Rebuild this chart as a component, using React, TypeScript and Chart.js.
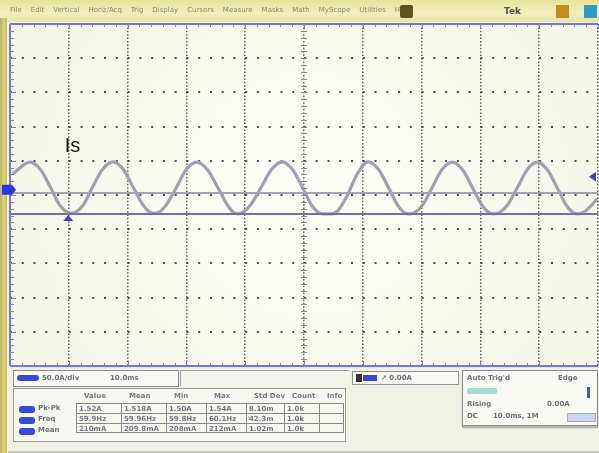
import React, { useEffect, useRef } from "react";
import { Chart, registerables } from "chart.js";

Chart.register(...registerables);

// Horizontal position in divisions (10 divisions across the screen)
const TIME_DIV = [
  0.05, 0.34, 0.52, 0.69, 0.84, 0.97, 1.04, 1.12, 1.25, 1.4, 1.57, 1.75, 1.93, 2.1,
  2.26, 2.38, 2.45, 2.53, 2.66, 2.83, 3.0, 3.18, 3.36, 3.54, 3.7, 3.81, 3.88, 3.96,
  4.1, 4.27, 4.45, 4.63, 4.81, 4.98, 5.13, 5.25, 5.31, 5.48, 5.58, 5.74, 5.9, 6.09,
  6.27, 6.44, 6.59, 6.71, 6.8, 6.89, 7.03, 7.18, 7.35, 7.52, 7.7, 7.87, 8.03, 8.15,
  8.24, 8.33, 8.47, 8.63, 8.8, 8.96, 9.14, 9.31, 9.46, 9.58, 9.66, 9.76, 9.9, 9.98,
];
// Current trace "Is" in vertical divisions (0 = screen centre)
const IS_DIV = [
  0.62, 0.96, 0.74, 0.22, -0.28, -0.5, -0.54, -0.5, -0.28, 0.22, 0.74, 0.97, 0.74, 0.21,
  -0.29, -0.51, -0.54, -0.51, -0.28, 0.22, 0.75, 0.96, 0.73, 0.2, -0.3, -0.52, -0.55, -0.51,
  -0.27, 0.22, 0.75, 0.97, 0.73, 0.2, -0.3, -0.52, -0.55, -0.55, -0.45, 0.0, 0.6, 0.97,
  0.74, 0.21, -0.29, -0.52, -0.55, -0.51, -0.26, 0.22, 0.75, 0.96, 0.73, 0.2, -0.3, -0.52,
  -0.55, -0.51, -0.27, 0.22, 0.75, 0.96, 0.73, 0.2, -0.3, -0.52, -0.55, -0.5, -0.28, -0.12,
];
const TRACE_LABEL = "Is";
const REF_LEVELS = [0.06, -0.555];
const X_RANGE = [0, 10];
const Y_RANGE = [-5, 5];
const GROUND_LEVEL = 0.15;
const TRIGGER_POS = 0.99;
const TRIGGER_LEVEL = 0.53;

const MENU_ITEMS = ["File", "Edit", "Vertical", "Horiz/Acq", "Trig", "Display", "Cursors", "Measure", "Masks", "Math", "MyScope", "Utilities", "Help"];
const MEAS_HEADERS = ["Value", "Mean", "Min", "Max", "Std Dev", "Count", "Info"];
const MEAS_ROWS = [
  ["Pk-Pk", "1.52A", "1.518A", "1.50A", "1.54A", "8.10m", "1.0k", ""],
  ["Freq", "59.9Hz", "59.96Hz", "59.8Hz", "60.1Hz", "42.3m", "1.0k", ""],
  ["Mean", "210mA", "209.8mA", "208mA", "212mA", "1.02m", "1.0k", ""],
];

const scopePlugin = {
  id: "scopeDecor",
  beforeDraw(chart: any) {
    const { ctx, chartArea: a } = chart;
    ctx.save();
    const g = ctx.createRadialGradient((a.left + a.right) / 2, (a.top + a.bottom) / 2, 50, (a.left + a.right) / 2, (a.top + a.bottom) / 2, 420);
    g.addColorStop(0, "#fbfcf5");
    g.addColorStop(1, "#f3f5e4");
    ctx.fillStyle = g;
    ctx.fillRect(a.left, a.top, a.right - a.left, a.bottom - a.top);
    ctx.restore();
  },
  afterDraw(chart: any) {
    const { ctx, chartArea: a, scales } = chart;
    const x = scales.x;
    const y = scales.y;
    ctx.save();
    // minor ticks on centre axes
    ctx.strokeStyle = "#8a8a8a";
    ctx.lineWidth = 1;
    const cx = x.getPixelForValue(5);
    for (let v = Y_RANGE[0]; v <= Y_RANGE[1] + 1e-6; v += 0.2) {
      const py = Math.round(y.getPixelForValue(v)) + 0.5;
      ctx.beginPath();
      ctx.moveTo(cx - 3, py);
      ctx.lineTo(cx + 3, py);
      ctx.stroke();
    }
    // frame (top, left, bottom)
    ctx.strokeStyle = "#6f76dc";
    ctx.lineWidth = 2;
    ctx.beginPath();
    ctx.moveTo(a.left, a.top);
    ctx.lineTo(a.right, a.top);
    ctx.moveTo(a.left, a.top);
    ctx.lineTo(a.left, a.bottom);
    ctx.moveTo(a.left, a.bottom);
    ctx.lineTo(a.right, a.bottom);
    ctx.stroke();
    // frame ticks
    ctx.lineWidth = 1;
    ctx.strokeStyle = "#7d80d0";
    for (let v = X_RANGE[0]; v <= X_RANGE[1] + 1e-6; v += 0.2) {
      const px = Math.round(x.getPixelForValue(v)) + 0.5;
      const major = Math.abs(v - Math.round(v)) < 1e-6;
      ctx.beginPath();
      ctx.moveTo(px, a.top);
      ctx.lineTo(px, a.top + (major ? 5 : 3));
      ctx.moveTo(px, a.bottom);
      ctx.lineTo(px, a.bottom - (major ? 5 : 3));
      ctx.stroke();
    }
    for (let v = Y_RANGE[0]; v <= Y_RANGE[1] + 1e-6; v += 0.2) {
      const py = Math.round(y.getPixelForValue(v)) + 0.5;
      const major = Math.abs(v - Math.round(v)) < 1e-6;
      ctx.beginPath();
      ctx.moveTo(a.left, py);
      ctx.lineTo(a.left + (major ? 6 : 4), py);
      ctx.stroke();
    }
    // ground marker (left)
    const gy = y.getPixelForValue(GROUND_LEVEL);
    ctx.fillStyle = "#2a36e6";
    ctx.beginPath();
    ctx.moveTo(2, gy - 5);
    ctx.lineTo(a.left + 2, gy - 5);
    ctx.lineTo(a.left + 6, gy);
    ctx.lineTo(a.left + 2, gy + 5);
    ctx.lineTo(2, gy + 5);
    ctx.closePath();
    ctx.fill();
    // trigger position marker
    const tx = x.getPixelForValue(TRIGGER_POS);
    const ty = y.getPixelForValue(REF_LEVELS[1]) + 1;
    ctx.fillStyle = "#3a44c8";
    ctx.beginPath();
    ctx.moveTo(tx, ty);
    ctx.lineTo(tx - 5, ty + 6);
    ctx.lineTo(tx + 5, ty + 6);
    ctx.closePath();
    ctx.fill();
    // trigger level marker (right)
    const ly = y.getPixelForValue(TRIGGER_LEVEL);
    ctx.beginPath();
    ctx.moveTo(a.right - 9, ly);
    ctx.lineTo(a.right - 2, ly - 5);
    ctx.lineTo(a.right - 2, ly + 5);
    ctx.closePath();
    ctx.fill();
    // trace label
    ctx.fillStyle = "#111";
    ctx.font = "20px 'Liberation Sans', Arial, sans-serif";
    ctx.textBaseline = "alphabetic";
    ctx.fillText(TRACE_LABEL, x.getPixelForValue(0.93), y.getPixelForValue(1.25));
    ctx.restore();
  },
};

function MeasTable() {
  const colX = [62, 107, 152, 192, 232, 270, 305, 330];
  return (
    <div style={{ position: "absolute", left: 13, top: 388, width: 331, height: 52, border: "1px solid #9a9a9a", background: "#f7f8f2" }}>
      {MEAS_HEADERS.map((h, i) => (
        <div key={h} style={{ position: "absolute", left: colX[i] + 8, top: 3, fontSize: 7, fontWeight: 700, color: "#7a7a86" }}>{h}</div>
      ))}
      {MEAS_ROWS.map((row, r) => (
        <React.Fragment key={r}>
          <div style={{ position: "absolute", left: 5, top: 17 + r * 11, width: 16, height: 7, background: "#3a4ad8", borderRadius: 3 }} />
          <div style={{ position: "absolute", left: 24, top: 15 + r * 11, fontSize: 7, fontWeight: 700, color: "#6e6e7a" }}>{row[0]}</div>
          {row.slice(1).map((c, i) => (
            <div key={i} style={{ position: "absolute", left: colX[i], top: 14 + r * 10, width: colX[i + 1] - colX[i], height: 10, borderTop: "1px solid #888", borderLeft: "1px solid #888", borderBottom: r === 2 ? "1px solid #888" : undefined, borderRight: i === 6 ? "1px solid #888" : undefined, fontSize: 7, fontWeight: 700, color: "#76767f", paddingLeft: 2, lineHeight: "10px", boxSizing: "border-box", overflow: "hidden", whiteSpace: "nowrap" }}>{c}</div>
          ))}
        </React.Fragment>
      ))}
    </div>
  );
}

export default function App() {
  const canvasRef = useRef<HTMLCanvasElement | null>(null);

  useEffect(() => {
    document.body.style.margin = "0";
    const canvas = canvasRef.current;
    if (!canvas) return;
    const trace = TIME_DIV.map((t, i) => ({ x: t, y: IS_DIV[i] }));
    const refs = REF_LEVELS.map((lv) => [{ x: X_RANGE[0], y: lv }, { x: X_RANGE[1], y: lv }]);
    const chart = new Chart(canvas, {
      type: "line",
      data: {
        datasets: [
          { label: "ref1", data: refs[0], borderColor: "#a3a3b6", borderWidth: 2, pointRadius: 0 },
          { label: "ref2", data: refs[1], borderColor: "#7070a4", borderWidth: 2, pointRadius: 0 },
          { label: "Is", data: trace, borderColor: "#a0a0b3", borderWidth: 3.2, pointRadius: 0, cubicInterpolationMode: "monotone" },
          { label: "Is-dots", data: trace, borderColor: "#4e4e62", borderWidth: 1.6, borderDash: [1, 2], pointRadius: 0, cubicInterpolationMode: "monotone" },
        ],
      },
      options: {
        responsive: false,
        animation: false,
        layout: { padding: { left: 10, top: 24, right: 1, bottom: 87 } },
        plugins: { legend: { display: false }, tooltip: { enabled: false } },
        scales: {
          x: {
            type: "linear",
            min: X_RANGE[0],
            max: X_RANGE[1],
            ticks: { display: false, stepSize: 1 },
            grid: { color: "rgba(80,80,80,0.9)", lineWidth: 1.5, drawTicks: false },
            border: { display: false, dash: [1.5, 1.9] },
          },
          y: {
            type: "linear",
            min: Y_RANGE[0],
            max: Y_RANGE[1],
            ticks: { display: false, stepSize: 1 },
            grid: { color: "rgba(60,60,60,0.9)", lineWidth: 2, drawTicks: false },
            border: { display: false, dash: [2, 9.76] },
          },
        },
      },
      plugins: [scopePlugin],
    } as any);
    return () => chart.destroy();
  }, []);

  const small = { fontSize: 7, fontWeight: 700, color: "#6f6f7a", position: "absolute" as const, whiteSpace: "nowrap" as const };

  return (
    <div style={{ position: "fixed", left: 0, top: 0, width: 599, height: 453, overflow: "hidden", background: "#eef0e3", fontFamily: "'DejaVu Sans', sans-serif" }}>
      {/* title / menu bar */}
      <div style={{ position: "absolute", left: 0, top: 0, width: 599, height: 22, background: "linear-gradient(#e9e49a, #f2efc0 60%, #e7e3a4)" }}>
        <div style={{ position: "absolute", left: 10, top: 6, display: "flex", gap: 9, filter: "blur(0.5px)" }}>
          {MENU_ITEMS.map((m) => (
            <span key={m} style={{ fontSize: 7, color: "#8a866a" }}>{m}</span>
          ))}
        </div>
        <div style={{ position: "absolute", left: 400, top: 5, width: 13, height: 13, background: "#5e5420", borderRadius: 2 }} />
        <div style={{ position: "absolute", left: 504, top: 6, fontSize: 9, fontWeight: 700, color: "#555", filter: "blur(0.4px)" }}>Tek</div>
        <div style={{ position: "absolute", left: 556, top: 5, width: 13, height: 13, background: "#c48b1c" }} />
        <div style={{ position: "absolute", left: 584, top: 5, width: 13, height: 13, background: "#2a9cc6" }} />
      </div>
      {/* left strip */}
      <div style={{ position: "absolute", left: 0, top: 18, width: 7, height: 435, background: "linear-gradient(90deg, #b8b060, #d8d27c 50%, #c4c06c)" }} />
      <canvas ref={canvasRef} width={599} height={453} style={{ position: "absolute", left: 0, top: 0 }} />
      {/* bottom panel */}
      <div style={{ position: "absolute", left: 8, top: 368, width: 591, height: 83, background: "#eff1e4", borderBottom: "2px solid #c8c8c0" }} />
      <div style={{ filter: "blur(0.45px)" }}>
        <div style={{ position: "absolute", left: 13, top: 370, width: 164, height: 15, border: "1px solid #8f8f8f", background: "#f8f9f3" }}>
          <div style={{ position: "absolute", left: 3, top: 4, width: 22, height: 6, background: "#3a48d8", borderRadius: 3 }} />
          <div style={{ ...small, left: 28, top: 3 }}>50.0A/div</div>
          <div style={{ ...small, left: 96, top: 3 }}>10.0ms</div>
        </div>
        <div style={{ position: "absolute", left: 180, top: 370, width: 168, height: 15, borderTop: "1px solid #a0a0a0", borderLeft: "1px solid #a0a0a0", background: "#f3f5ea" }} />
        <MeasTable />
        <div style={{ position: "absolute", left: 352, top: 371, width: 105, height: 12, border: "1px solid #8f8f8f", background: "#f8f9f3" }}>
          <div style={{ position: "absolute", left: 3, top: 2, width: 6, height: 8, background: "#333" }} />
          <div style={{ position: "absolute", left: 10, top: 3, width: 14, height: 6, background: "#3a48d8" }} />
          <div style={{ ...small, left: 28, top: 2 }}>↗ 0.00A</div>
        </div>
        <div style={{ position: "absolute", left: 462, top: 370, width: 134, height: 54, border: "1px solid #8a8a8a", background: "#f8f9f3", boxShadow: "0 2px 1px #b4b4b4" }}>
          <div style={{ ...small, left: 4, top: 3 }}>Auto  Trig'd</div>
          <div style={{ ...small, left: 95, top: 3 }}>Edge</div>
          <div style={{ position: "absolute", left: 4, top: 17, width: 30, height: 6, background: "#a4dcd2", borderRadius: 2 }} />
          <div style={{ position: "absolute", left: 124, top: 16, width: 3, height: 11, background: "#4a50c8" }} />
          <div style={{ ...small, left: 4, top: 29 }}>Rising</div>
          <div style={{ ...small, left: 84, top: 29 }}>0.00A</div>
          <div style={{ ...small, left: 4, top: 41 }}>DC</div>
          <div style={{ ...small, left: 30, top: 41 }}>10.0ms, 1M</div>
          <div style={{ position: "absolute", left: 104, top: 42, width: 27, height: 7, background: "#cad6ee", border: "1px solid #aab" }} />
        </div>
      </div>
    </div>
  );
}
